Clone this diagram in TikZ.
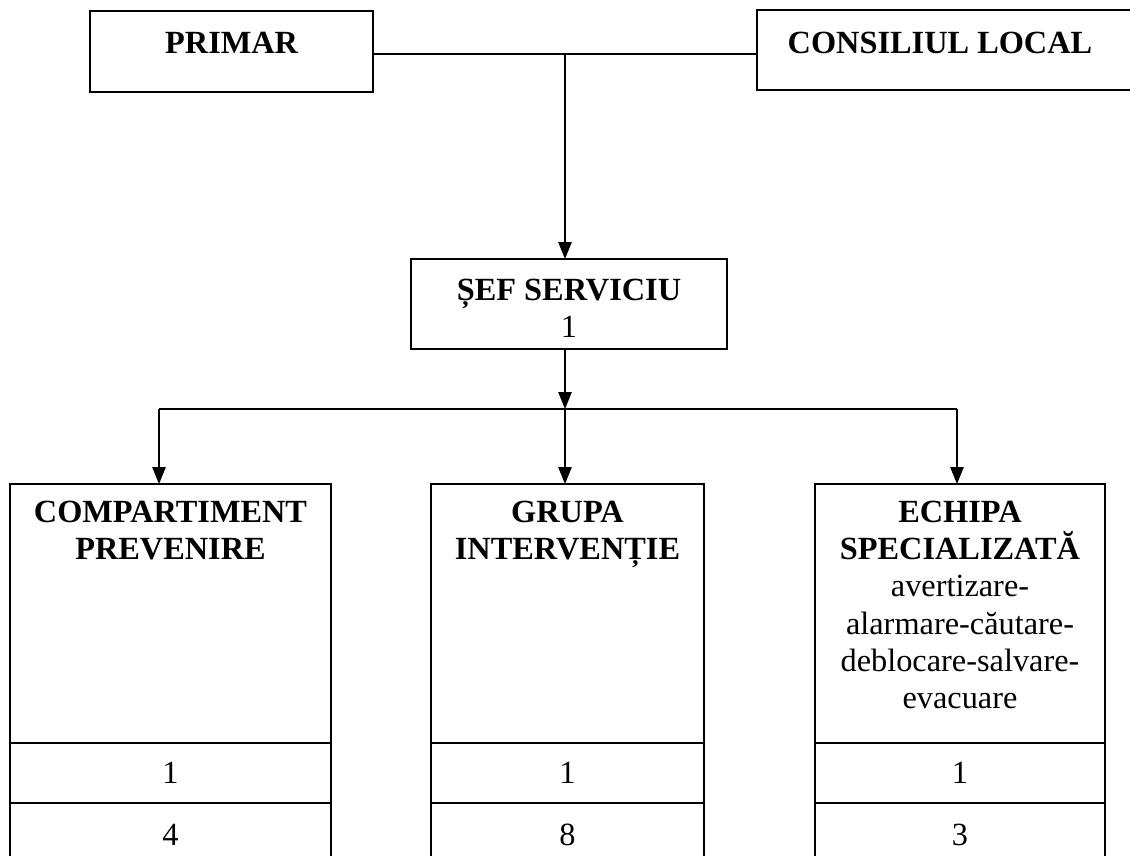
\documentclass[tikz,border=0pt]{standalone}
\usepackage{fontspec}
\setmainfont{Liberation Serif}
\usetikzlibrary{arrows.meta,positioning}

\begin{document}
\begin{tikzpicture}[y=-1cm]
\tikzset{box/.style = {draw, line width=0.9pt, inner sep=0pt, outer sep=0pt, font=\fontsize{23}{26.5}\selectfont}}
\tikzset{head/.style = {font=\fontsize{23}{26.5}\selectfont\bfseries, align=center}}
\tikzset{link/.style = {line width=0.9pt, -{Triangle[length=12pt,width=9.5pt]}}}

\useasboundingbox (0,0) rectangle (28.25,21.4);
\clip (0,0) rectangle (28.25,21.4);

% top level
\node[box, minimum width=7.075cm, minimum height=2.025cm] (primar) at (5.79,1.29) {};
\node[head] (primar-t) at (5.79,1.075) {PRIMAR};
\node[box, minimum width=9.45cm, minimum height=2cm] (consiliu) at (23.65,1.25) {};
\node[head] (consiliu-t) at (23.5,1.075) {CONSILIUL LOCAL};

\coordinate (j0) at (14.125,1.35);
\draw[line width=0.9pt] (primar.east |- j0) -- (consiliu.west |- j0);

% sef serviciu
\node[box, minimum width=7.9cm, minimum height=2.25cm] (sef) at (14.225,7.6) {};
\node[head] (sef-t) at (14.225,7.7) {ȘEF SERVICIU\\\mdseries 1};
\draw[link] (j0) -- (j0 |- sef.north);

\coordinate (j1) at (14.125,10.225);
\coordinate (a1) at (3.975,10.225);
\coordinate (a3) at (23.925,10.225);
\draw[link] (sef.south -| j0) -- (j1);
\draw[line width=0.9pt] (a1) -- (a3);

% compartimente
\node[box, minimum width=8.025cm, minimum height=6.475cm] (comp) at (4.2625,15.3375) {};
\node[box, minimum width=8.025cm, minimum height=1.5cm, below=0pt of comp] (comp1) {1};
\node[box, minimum width=8.025cm, minimum height=1.6cm, below=0pt of comp1] (comp2) {4};
\node[head, below=0.3cm of comp.north] (comp-t) {COMPARTIMENT\\PREVENIRE};

\node[box, minimum width=6.825cm, minimum height=6.475cm] (grupa) at (14.1875,15.3375) {};
\node[box, minimum width=6.825cm, minimum height=1.5cm, below=0pt of grupa] (grupa1) {1};
\node[box, minimum width=6.825cm, minimum height=1.6cm, below=0pt of grupa1] (grupa2) {8};
\node[head, below=0.3cm of grupa.north] (grupa-t) {GRUPA\\INTERVENȚIE};

\node[box, minimum width=7.25cm, minimum height=6.475cm] (echipa) at (24,15.3375) {};
\node[box, minimum width=7.25cm, minimum height=1.5cm, below=0pt of echipa] (echipa1) {1};
\node[box, minimum width=7.25cm, minimum height=1.6cm, below=0pt of echipa1] (echipa2) {3};
\node[head, below=0.3cm of echipa.north] (echipa-t) {ECHIPA\\SPECIALIZATĂ\\\mdseries avertizare-\\\mdseries alarmare-căutare-\\\mdseries deblocare-salvare-\\\mdseries evacuare};

\draw[link] (a1) -- (a1 |- comp.north);
\draw[link] (j1) -- (j1 |- grupa.north);
\draw[link] (a3) -- (a3 |- echipa.north);

\end{tikzpicture}
\end{document}
